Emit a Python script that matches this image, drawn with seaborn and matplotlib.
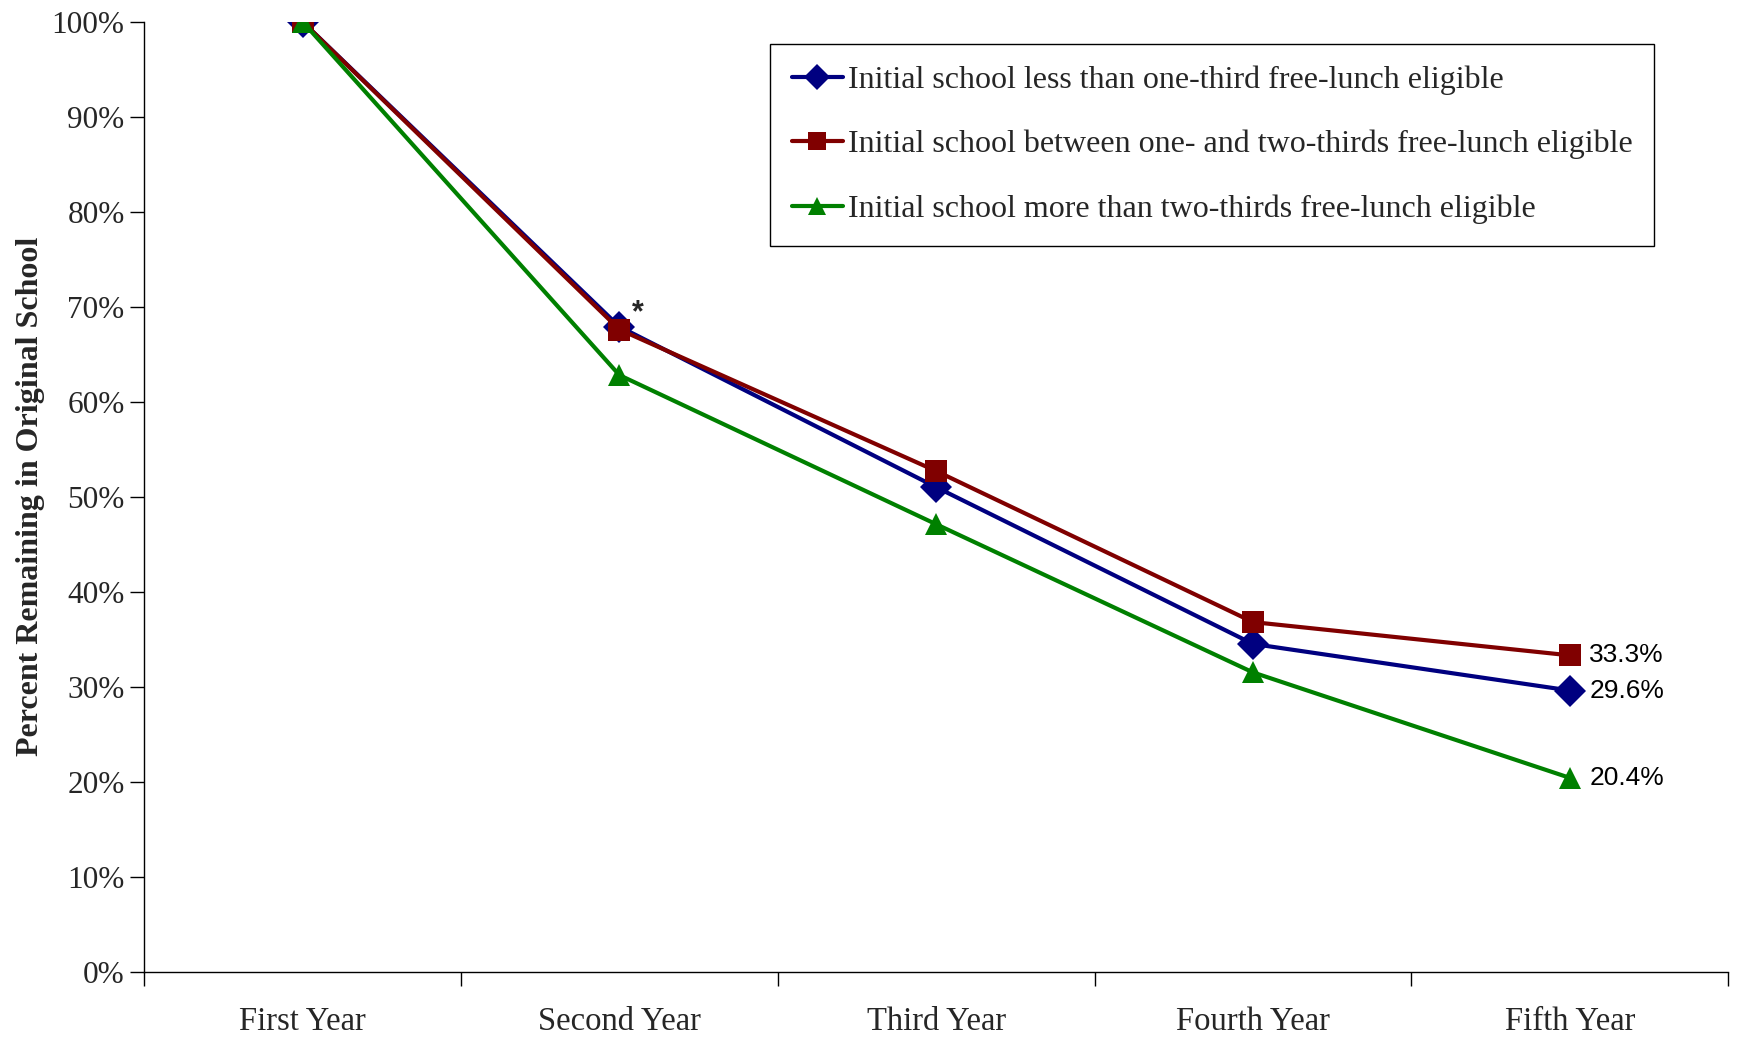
# Retention of teachers in their initial school, by free-lunch share
import matplotlib
matplotlib.use("Agg")
from matplotlib import pyplot as plt
from matplotlib.ticker import PercentFormatter, FixedLocator, NullFormatter
import seaborn as sb
import pandas as pd

# Data
years = ["First Year", "Second Year", "Third Year", "Fourth Year", "Fifth Year"]
low_frl = [100.0, 67.9, 51.0, 34.5, 29.6]
mid_frl = [100.0, 67.6, 52.7, 36.8, 33.3]
high_frl = [100.0, 62.8, 47.1, 31.5, 20.4]
series_names = [
    "Initial school less than one-third free-lunch eligible",
    "Initial school between one- and two-thirds free-lunch eligible",
    "Initial school more than two-thirds free-lunch eligible",
]
end_labels = ["29.6%", "33.3%", "20.4%"]

df = pd.DataFrame({
    "Year": years * 3,
    "Pct": low_frl + mid_frl + high_frl,
    "Group": [series_names[0]] * 5 + [series_names[1]] * 5 + [series_names[2]] * 5,
})

colors = {series_names[0]: "#000080", series_names[1]: "#800000", series_names[2]: "#008000"}
marks = {series_names[0]: "D", series_names[1]: "s", series_names[2]: "^"}

sb.set_theme(style="white")
plt.rcParams["font.family"] = ["Liberation Serif", "DejaVu Serif"]

fig = plt.figure(figsize=(17.37, 10.37), dpi=100)
ax = fig.add_axes([0.083, 0.063, 0.912, 0.916])

sb.lineplot(data=df, x="Year", y="Pct", hue="Group", style="Group",
            palette=colors, markers=marks, dashes=False, linewidth=3.0,
            markersize=16, markeredgewidth=0, sort=False, ax=ax)

ax.set_xlim(-0.5, 4.5)
ax.set_ylim(0, 100)
for s in ["top", "right"]:
    ax.spines[s].set_visible(False)
for s in ["left", "bottom"]:
    ax.spines[s].set_color("black")
    ax.spines[s].set_linewidth(1.0)

# category axis: ticks on the boundaries, labels centred
ax.xaxis.set_major_locator(FixedLocator([-0.5, 0.5, 1.5, 2.5, 3.5, 4.5]))
ax.xaxis.set_major_formatter(NullFormatter())
ax.xaxis.set_minor_locator(FixedLocator([0, 1, 2, 3, 4]))
ax.set_xticklabels(years, minor=True)
ax.tick_params(axis="x", which="major", direction="out", length=10, width=1, color="black", bottom=True)
ax.tick_params(axis="x", which="minor", length=0, pad=25, labelsize=23.5)
ax.set_yticks(range(0, 101, 10))
ax.yaxis.set_major_formatter(PercentFormatter(decimals=0))
ax.tick_params(axis="y", direction="out", length=10, width=1, color="black", left=True, labelsize=22.5, pad=4)

ax.set_xlabel("")
ax.set_ylabel("Percent Remaining in Original School", fontsize=23, fontweight="bold", labelpad=5)

# value labels at the last point and the star at year two
for vals, txt in zip([low_frl, mid_frl, high_frl], end_labels):
    ax.annotate(txt, (4, vals[-1]), xytext=(14, 0), textcoords="offset points",
                va="center", ha="left", fontsize=19, family="Liberation Sans", color="black")
ax.annotate("*", (1, mid_frl[1]), xytext=(9, 1), textcoords="offset points",
            fontsize=22, fontweight="bold", family="Liberation Sans", ha="left", va="bottom")

leg = ax.legend(loc="upper left", bbox_to_anchor=(0.395, 0.977), fontsize=23,
                frameon=True, fancybox=False, edgecolor="black", framealpha=1,
                handlelength=1.6, handletextpad=0.15, labelspacing=1.1,
                borderpad=0.68, borderaxespad=0, markerscale=0.85)
leg.get_frame().set_linewidth(1.0)

plt.savefig("out.png", dpi=100)
